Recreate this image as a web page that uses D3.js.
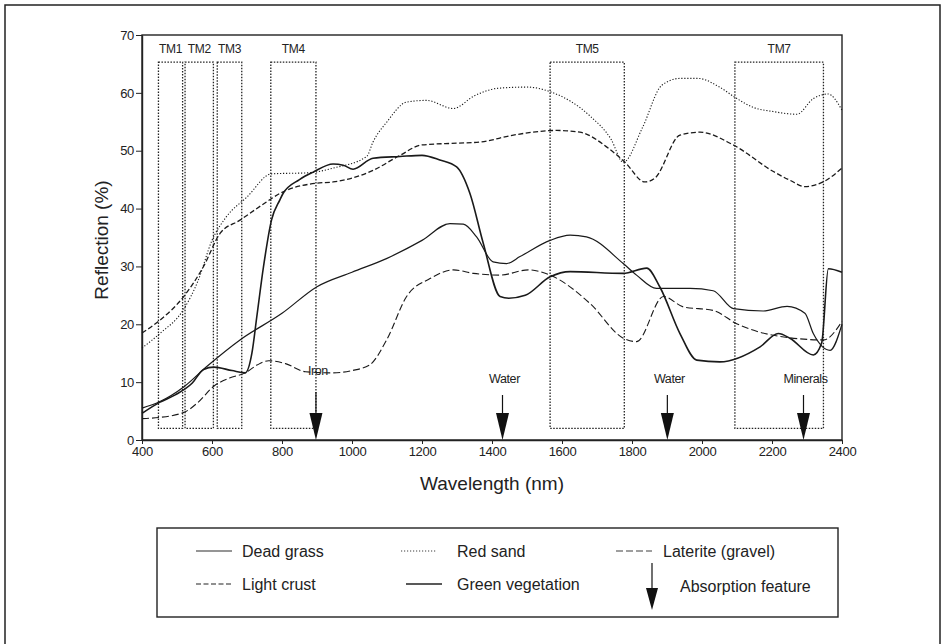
<!DOCTYPE html>
<html>
<head>
<meta charset="utf-8">
<script src="https://cdn.jsdelivr.net/npm/d3@7"></script>
<style>
  body { margin: 0; background: #fff; }
  svg { font-family: "Liberation Sans", Arial, sans-serif; }
</style>
</head>
<body>
<div id="chart"></div>
<script>
// spectra: [wavelength nm, reflection %]
const deadGrass = [[400,5.5],[450,6.6],[520,9.2],[585,12.7],[680,17.3],[800,21.9],[900,26.5],[1000,29],[1100,31.4],[1200,34.5],[1280,37.4],[1318,37.3],[1356,35.1],[1403,30.8],[1442,30.5],[1480,31.7],[1566,34.5],[1623,35.4],[1670,35.1],[1775,30.5],[1813,28.5],[1870,26.2],[1966,26.2],[2032,25.8],[2090,22.7],[2175,22.3],[2243,23.1],[2294,21.9],[2318,18.4],[2366,15.5],[2400,20]];
const greenVeg = [[400,4.6],[450,6.5],[495,7.8],[543,9.8],[576,12.2],[605,12.6],[657,12],[695,11.6],[714,15],[728,21.3],[747,29.9],[770,38],[794,41.5],[803,42.6],[850,45],[889,46.3],[946,47.7],[975,47.5],[1003,46.8],[1060,48.7],[1137,49],[1200,49.2],[1251,48.4],[1299,47.2],[1337,42.6],[1375,34],[1423,24.8],[1448,24.5],[1495,25],[1566,28.2],[1623,29.1],[1775,28.8],[1842,29.7],[1880,26.4],[1937,18.4],[1985,13.8],[2051,13.5],[2166,16.1],[2218,18.4],[2251,17.6],[2318,14.7],[2342,16.8],[2361,29.6],[2400,29]];
const lightCrust = [[400,18.5],[451,20.7],[518,24.7],[575,29.9],[623,35.7],[680,38],[740,40.5],[803,42.9],[900,44.4],[946,44.6],[1060,46.6],[1137,49.2],[1200,51],[1300,51.3],[1366,51.5],[1461,52.7],[1585,53.5],[1651,53.2],[1733,50.4],[1780,48],[1837,44.6],[1866,45.3],[1937,52.7],[1994,53.2],[2089,51],[2204,46.4],[2251,44.9],[2294,43.8],[2346,44.6],[2400,47]];
const redSand = [[400,15.9],[451,18.4],[518,22.5],[560,27.5],[600,34.5],[640,38.5],[700,42],[770,46],[880,46.2],[946,47],[1042,49],[1060,51.5],[1100,55],[1156,58.4],[1213,58.7],[1289,57.3],[1350,59.5],[1418,60.8],[1500,61],[1566,60.2],[1680,56],[1740,52],[1775,48],[1830,54],[1885,61.3],[1937,62.5],[1989,62.5],[2050,61],[2100,59],[2146,57.5],[2200,56.8],[2271,56.3],[2318,59],[2360,59.8],[2400,57]];
const laterite = [[400,3.7],[450,3.9],[524,4.9],[560,6.5],[605,9.3],[650,10.7],[695,11.6],[730,13],[762,13.7],[810,13.2],[867,11.8],[943,11.6],[1000,12],[1051,13],[1099,17.3],[1156,24.8],[1223,27.9],[1290,29.4],[1347,28.8],[1423,28.5],[1504,29.4],[1566,28.5],[1680,23.6],[1775,17.6],[1813,17],[1890,24.8],[1947,23],[2032,22.4],[2099,20.1],[2204,18.1],[2347,17.3],[2400,20.5]];

const tmBands = ['TM1', 'TM2', 'TM3', 'TM4', 'TM5', 'TM7'];
const tmStart = [447, 523, 615, 768, 1566, 2094];
const tmEnd = [516, 604, 685, 897, 1778, 2347];
const tmTop = 65.3, tmBottom = 2;

const absorbNames = ['Iron', 'Water', 'Water', 'Minerals'];
const absorbNm = [897, 1430, 1901, 2290];

const xTicks = [400, 600, 800, 1000, 1200, 1400, 1600, 1800, 2000, 2200, 2400];
const yTicks = [0, 10, 20, 30, 40, 50, 60, 70];

const width = 945, height = 644;
const svg = d3.select('#chart').append('svg')
  .attr('width', width)
  .attr('height', height);

// outer frame
svg.append('rect')
  .attr('x', 5).attr('y', 5)
  .attr('width', 935).attr('height', 660)
  .attr('fill', 'none').attr('stroke', '#222').attr('stroke-width', 1.5);

const x = d3.scaleLinear().domain([400, 2400]).range([142, 842]);
const y = d3.scaleLinear().domain([0, 70]).range([440, 35]);

// plot frame
svg.append('rect')
  .attr('x', x(400)).attr('y', y(70))
  .attr('width', x(2400) - x(400)).attr('height', y(0) - y(70))
  .attr('fill', 'none').attr('stroke', '#222').attr('stroke-width', 1.4);

const xAxis = svg.append('g')
  .attr('transform', `translate(0,${y(0)})`)
  .call(d3.axisBottom(x).tickValues(xTicks).tickFormat(d3.format('d'))
    .tickSize(4).tickSizeOuter(0).tickPadding(3));
const yAxis = svg.append('g')
  .attr('transform', `translate(${x(400)},0)`)
  .call(d3.axisLeft(y).tickValues(yTicks).tickFormat(d3.format('d'))
    .tickSize(6).tickSizeOuter(0).tickPadding(2));

[xAxis, yAxis].forEach(g => {
  g.select('.domain').attr('stroke', '#222').attr('stroke-width', 1.4);
  g.selectAll('.tick line').attr('stroke', '#222');
  g.selectAll('.tick text')
    .attr('fill', '#222')
    .style('font-size', '13px')
    .style('letter-spacing', '-0.3px');
});

svg.append('text')
  .attr('x', 492).attr('y', 490)
  .attr('text-anchor', 'middle')
  .style('font-size', '19px')
  .attr('fill', '#222')
  .text('Wavelength (nm)');

svg.append('text')
  .attr('transform', 'translate(108,240) rotate(-90)')
  .attr('text-anchor', 'middle')
  .style('font-size', '19px')
  .attr('fill', '#222')
  .text('Reflection (%)');

// TM band boxes
svg.selectAll('rect.tm')
  .data(tmBands)
  .join('rect')
  .attr('class', 'tm')
  .attr('x', (d, i) => x(tmStart[i]))
  .attr('y', y(tmTop))
  .attr('width', (d, i) => x(tmEnd[i]) - x(tmStart[i]))
  .attr('height', y(tmBottom) - y(tmTop))
  .attr('fill', 'none')
  .attr('stroke', '#222')
  .attr('stroke-width', 1.3)
  .attr('stroke-dasharray', '1.5,1.5');

svg.selectAll('text.tm')
  .data(tmBands)
  .join('text')
  .attr('class', 'tm')
  .attr('x', (d, i) => x((tmStart[i] + tmEnd[i]) / 2))
  .attr('y', 53)
  .attr('text-anchor', 'middle')
  .style('font-size', '12px')
  .style('letter-spacing', '-0.3px')
  .attr('fill', '#222')
  .text(d => d);

// spectra
const line = d3.line()
  .x(d => x(d[0]))
  .y(d => y(d[1]))
  .curve(d3.curveMonotoneX);

const series = [
  { name: 'Dead grass', data: deadGrass, width: 1.2, dash: null },
  { name: 'Red sand', data: redSand, width: 1.1, dash: '1.2,1.8' },
  { name: 'Laterite (gravel)', data: laterite, width: 1.1, dash: '7,3' },
  { name: 'Light crust', data: lightCrust, width: 1.3, dash: '5,2.5' },
  { name: 'Green vegetation', data: greenVeg, width: 1.6, dash: null }
];

svg.selectAll('path.spec')
  .data(series)
  .join('path')
  .attr('class', 'spec')
  .attr('d', d => line(d.data))
  .attr('fill', 'none')
  .attr('stroke', '#1a1a1a')
  .attr('stroke-width', d => d.width)
  .attr('stroke-dasharray', d => d.dash);

// absorption arrows
const arrows = svg.append('g');
absorbNm.forEach((nm, i) => {
  const ax = x(nm);
  const top = i === 0 ? 392 : 395;
  arrows.append('line')
    .attr('x1', ax).attr('x2', ax)
    .attr('y1', top).attr('y2', 415)
    .attr('stroke', '#111').attr('stroke-width', 1.2);
  arrows.append('path')
    .attr('d', `M${ax - 6.5},413 L${ax + 6.5},413 L${ax},${y(0)} Z`)
    .attr('fill', '#111');
  arrows.append('text')
    .attr('x', ax + 2)
    .attr('y', i === 0 ? 375 : 383)
    .attr('text-anchor', 'middle')
    .style('font-size', '12.5px')
    .style('letter-spacing', '-0.4px')
    .attr('fill', '#222')
    .text(absorbNames[i]);
});

// legend
const legend = svg.append('g');
legend.append('rect')
  .attr('x', 157).attr('y', 528)
  .attr('width', 681).attr('height', 89)
  .attr('fill', 'none').attr('stroke', '#222').attr('stroke-width', 1.4);

const legendPos = [
  { lx: 196, tx: 242, ty: 551 },
  { lx: 401, tx: 457, ty: 551 },
  { lx: 616, tx: 663, ty: 551 },
  { lx: 196, tx: 242, ty: 584 },
  { lx: 406, tx: 457, ty: 584 }
];
series.forEach((s, i) => {
  const p = legendPos[i];
  legend.append('line')
    .attr('x1', p.lx).attr('x2', p.lx + 36)
    .attr('y1', p.ty).attr('y2', p.ty)
    .attr('stroke', '#222')
    .attr('stroke-width', s.width * 0.8)
    .attr('stroke-dasharray', s.dash);
  legend.append('text')
    .attr('x', p.tx).attr('y', p.ty)
    .attr('dy', '0.35em')
    .style('font-size', '16px')
    .attr('fill', '#222')
    .text(s.name);
});

legend.append('line')
  .attr('x1', 652).attr('x2', 652)
  .attr('y1', 563).attr('y2', 592)
  .attr('stroke', '#111').attr('stroke-width', 1.2);
legend.append('path')
  .attr('d', 'M646,588 L658,588 L652,610 Z')
  .attr('fill', '#111');
legend.append('text')
  .attr('x', 680).attr('y', 586)
  .attr('dy', '0.35em')
  .style('font-size', '16px')
  .attr('fill', '#222')
  .text('Absorption feature');
</script>
</body>
</html>
